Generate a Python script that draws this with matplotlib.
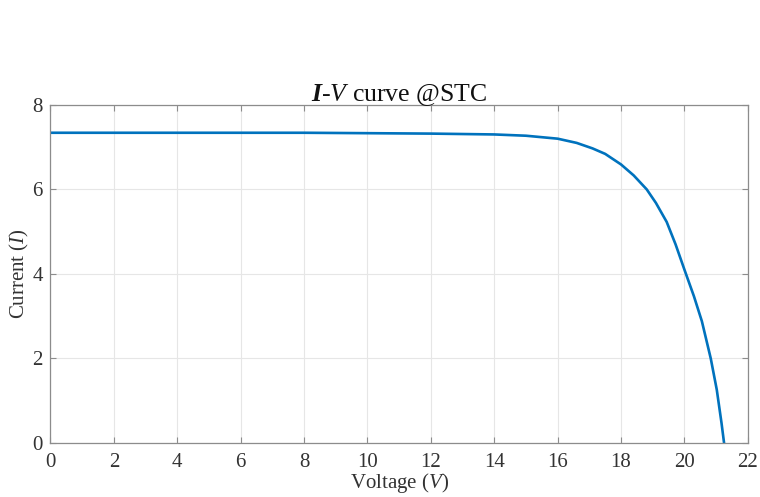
import matplotlib
matplotlib.use("Agg")
import matplotlib.pyplot as plt

# Data (Voltage in V, Current in A)
voltage = [0, 4, 8, 12, 13, 14, 15, 16, 16.6, 17.1, 17.5, 18.0, 18.4, 18.81,
           19.1, 19.44, 19.72, 20.0, 20.3, 20.55, 20.83, 21.02, 21.17, 21.25]
current = [7.34, 7.34, 7.34, 7.32, 7.31, 7.30, 7.27, 7.20, 7.10, 6.97, 6.84, 6.59,
           6.33, 6.00, 5.68, 5.23, 4.70, 4.10, 3.47, 2.88, 2.00, 1.26, 0.47, 0.0]
xticks = [0, 2, 4, 6, 8, 10, 12, 14, 16, 18, 20, 22]
yticks = [0, 2, 4, 6, 8]

plt.rcParams['font.family'] = ['Liberation Serif', 'DejaVu Serif']
plt.rcParams['mathtext.fontset'] = 'custom'
plt.rcParams['mathtext.rm'] = 'Liberation Serif'
plt.rcParams['mathtext.it'] = 'Liberation Serif:italic'
plt.rcParams['mathtext.bf'] = 'Liberation Serif:bold'
plt.rcParams['mathtext.bfit'] = 'Liberation Serif:bold:italic'

fig = plt.figure(figsize=(7.6, 4.97), dpi=100)
ax = fig.add_axes([0.0664, 0.1087, 0.9176, 0.6803])

ax.plot(voltage, current, color='#0072BD', lw=1.9, solid_joinstyle='round')

ax.set_xlim(0, 22)
ax.set_ylim(0, 8)
ax.set_xticks(xticks)
ax.set_yticks(yticks)
ax.grid(True, color='#e6e6e6', lw=0.8)
ax.set_axisbelow(True)

for s in ax.spines.values():
    s.set_color('#8c8c8c')
    s.set_linewidth(0.9)
ax.tick_params(direction='in', length=4.5, width=0.8, color='#8c8c8c',
               top=True, right=True, labelsize=15, labelcolor='#333333')
ax.tick_params(axis='x', pad=7)
ax.tick_params(axis='y', pad=5.5)

ax.set_xlabel(r'Voltage ($\mathit{V}$)', fontsize=15, color='#333333', labelpad=-0.5)
ax.set_ylabel(r'Current ($\mathit{I}$)', fontsize=15, color='#333333', labelpad=1)
ax.set_title(r'$\bfit{I}$-$\mathit{V}$ curve @STC', fontsize=18.5, color='#111111', pad=2.5)

fig.savefig('out.png', dpi=100)
